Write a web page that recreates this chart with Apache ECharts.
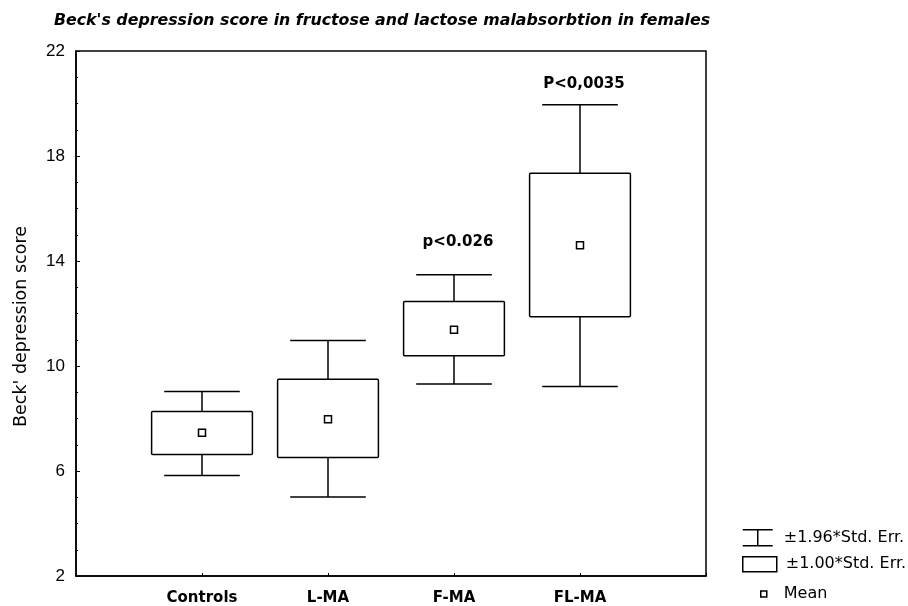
<!DOCTYPE html>
<html>
<head>
<meta charset="utf-8">
<script src="https://cdn.jsdelivr.net/npm/echarts@6/dist/echarts.min.js"></script>
<style>
html,body{margin:0;padding:0;background:#fff;}
#chart{width:908px;height:606px;}
</style>
</head>
<body>
<div id="chart"></div>
<script>
// ---- data ----
const categories = ['Controls', 'L-MA', 'F-MA', 'FL-MA'];
const means      = [7.46, 7.97, 11.38, 14.60];
const seLow      = [6.63, 6.51, 10.39, 11.88];   // mean - 1.00*SE
const seHigh     = [8.27, 9.50, 12.46, 17.34];   // mean + 1.00*SE
const ciLow      = [5.83, 5.01, 9.31, 9.22];     // mean - 1.96*SE
const ciHigh     = [9.03, 10.97, 13.48, 19.95];  // mean + 1.96*SE
const annotations = ['', '', 'p<0.026', 'P<0,0035'];
const annotationY = [null, null, 14.72, 20.75];
const yTicks = [2, 6, 10, 14, 18, 22];

const FONT = '"Liberation Sans", Arial, sans-serif';
const WIDE = '"DejaVu Sans", "Liberation Sans", sans-serif';
const BLACK = '#000';

const whiskerData = categories.map((c, i) => [i + 1, ciLow[i], ciHigh[i]]);
const boxData = categories.map((c, i) => [i + 1, seLow[i], seHigh[i]]);
const meanData = categories.map((c, i) => [i + 1, means[i]]);
const annData = categories.map((c, i) => [i + 1, annotationY[i], annotations[i]])
  .filter(d => d[1] !== null);

function renderWhisker(params, api) {
  const x = api.value(0), lo = api.value(1), hi = api.value(2);
  const pLo = api.coord([x, lo]);
  const pHi = api.coord([x, hi]);
  const w = api.size([0.6, 0])[0];
  const st = { stroke: BLACK, lineWidth: 1.5 };
  return {
    type: 'group',
    children: [
      { type: 'line', shape: { x1: pLo[0], y1: pLo[1], x2: pHi[0], y2: pHi[1] }, style: st },
      { type: 'line', shape: { x1: pHi[0] - w / 2, y1: pHi[1], x2: pHi[0] + w / 2, y2: pHi[1] }, style: st },
      { type: 'line', shape: { x1: pLo[0] - w / 2, y1: pLo[1], x2: pLo[0] + w / 2, y2: pLo[1] }, style: st }
    ]
  };
}

function renderBox(params, api) {
  const x = api.value(0), lo = api.value(1), hi = api.value(2);
  const pLo = api.coord([x, lo]);
  const pHi = api.coord([x, hi]);
  const w = api.size([0.8, 0])[0];
  return {
    type: 'rect',
    shape: { x: pHi[0] - w / 2, y: pHi[1], width: w, height: pLo[1] - pHi[1], r: 1 },
    style: { fill: '#fff', stroke: BLACK, lineWidth: 1.5 }
  };
}

const chart = echarts.init(document.getElementById('chart'), null, { renderer: 'canvas' });

const legendText = { color: BLACK, fontFamily: WIDE, fontSize: 16 };

chart.setOption({
  backgroundColor: '#fff',
  animation: false,
  title: {
    text: "Beck's depression score in fructose and lactose malabsorbtion in females",
    left: 49,
    top: 8,
    textStyle: { fontFamily: WIDE, fontSize: 15.8, fontWeight: 'bold', fontStyle: 'italic', color: BLACK }
  },
  grid: {
    left: 76, right: 202, top: 51, bottom: 30,
    show: true, borderColor: BLACK, borderWidth: 1.5, backgroundColor: 'transparent'
  },
  legend: [
    {
      left: 737, top: 524, itemWidth: 34, itemHeight: 16, selectedMode: false,
      textStyle: Object.assign({ padding: [0, 0, 0, 4] }, legendText),
      data: [{ name: '±1.96*Std. Err.', icon: 'path://M0,0L30,0M15,0L15,16M0,16L30,16',
               itemStyle: { color: 'transparent', borderColor: BLACK, borderWidth: 1.5 } }]
    },
    {
      left: 737, top: 551, itemWidth: 34, itemHeight: 15, selectedMode: false,
      textStyle: Object.assign({ padding: [0, 0, 0, 4] }, legendText),
      data: [{ name: '±1.00*Std. Err.', icon: 'rect',
               itemStyle: { color: 'transparent', borderColor: BLACK, borderWidth: 1.5 } }]
    },
    {
      left: 755, top: 581, itemWidth: 6, itemHeight: 6, selectedMode: false,
      textStyle: Object.assign({ padding: [0, 0, 0, 12] }, legendText),
      data: [{ name: 'Mean', icon: 'rect',
               itemStyle: { color: '#fff', borderColor: BLACK, borderWidth: 1.5 } }]
    }
  ],
  xAxis: {
    type: 'value',
    min: 0, max: 5, interval: 1,
    splitLine: { show: false },
    axisLine: { show: true, lineStyle: { color: BLACK, width: 1.5 } },
    axisTick: { show: true, inside: true, length: 3, lineStyle: { color: BLACK } },
    axisLabel: {
      margin: 15,
      color: BLACK, fontFamily: WIDE, fontSize: 15, fontWeight: 'bold',
      formatter: v => (v >= 1 && v <= categories.length) ? categories[v - 1] : ''
    }
  },
  yAxis: {
    type: 'value',
    min: yTicks[0], max: yTicks[yTicks.length - 1], interval: 4,
    name: "Beck' depression score",
    nameLocation: 'middle',
    nameGap: 46,
    nameTextStyle: { color: BLACK, fontFamily: WIDE, fontSize: 17.5, padding: [0, 26, 0, 0] },
    splitLine: { show: false },
    axisLine: { show: true, lineStyle: { color: BLACK, width: 1.5 } },
    axisTick: { show: true, inside: true, length: 4, lineStyle: { color: BLACK } },
    minorTick: { show: true, splitNumber: 4, length: 2, lineStyle: { color: BLACK } },
    axisLabel: { margin: 11, color: BLACK, fontFamily: FONT, fontSize: 17 }
  },
  series: [
    {
      name: '±1.96*Std. Err.',
      type: 'custom',
      renderItem: renderWhisker,
      itemStyle: { color: BLACK },
      encode: { x: 0, y: [1, 2] },
      data: whiskerData,
      z: 2
    },
    {
      name: '±1.00*Std. Err.',
      type: 'custom',
      renderItem: renderBox,
      itemStyle: { color: BLACK },
      encode: { x: 0, y: [1, 2] },
      data: boxData,
      z: 3
    },
    {
      name: 'Mean',
      type: 'scatter',
      symbol: 'rect',
      symbolSize: 7,
      itemStyle: { color: '#fff', borderColor: BLACK, borderWidth: 1.5, opacity: 1 },
      data: meanData,
      z: 4
    },
    {
      name: 'annotations',
      type: 'scatter',
      symbol: 'circle',
      symbolSize: 0,
      silent: true,
      itemStyle: { color: BLACK, opacity: 1 },
      label: {
        show: true, position: 'inside', offset: [4, 0],
        formatter: p => p.value[2],
        color: '#000', opacity: 1, textBorderWidth: 0,
        fontFamily: WIDE, fontSize: 15, fontWeight: 'bold'
      },
      encode: { x: 0, y: 1 },
      data: annData,
      z: 5
    }
  ]
});
</script>
</body>
</html>
